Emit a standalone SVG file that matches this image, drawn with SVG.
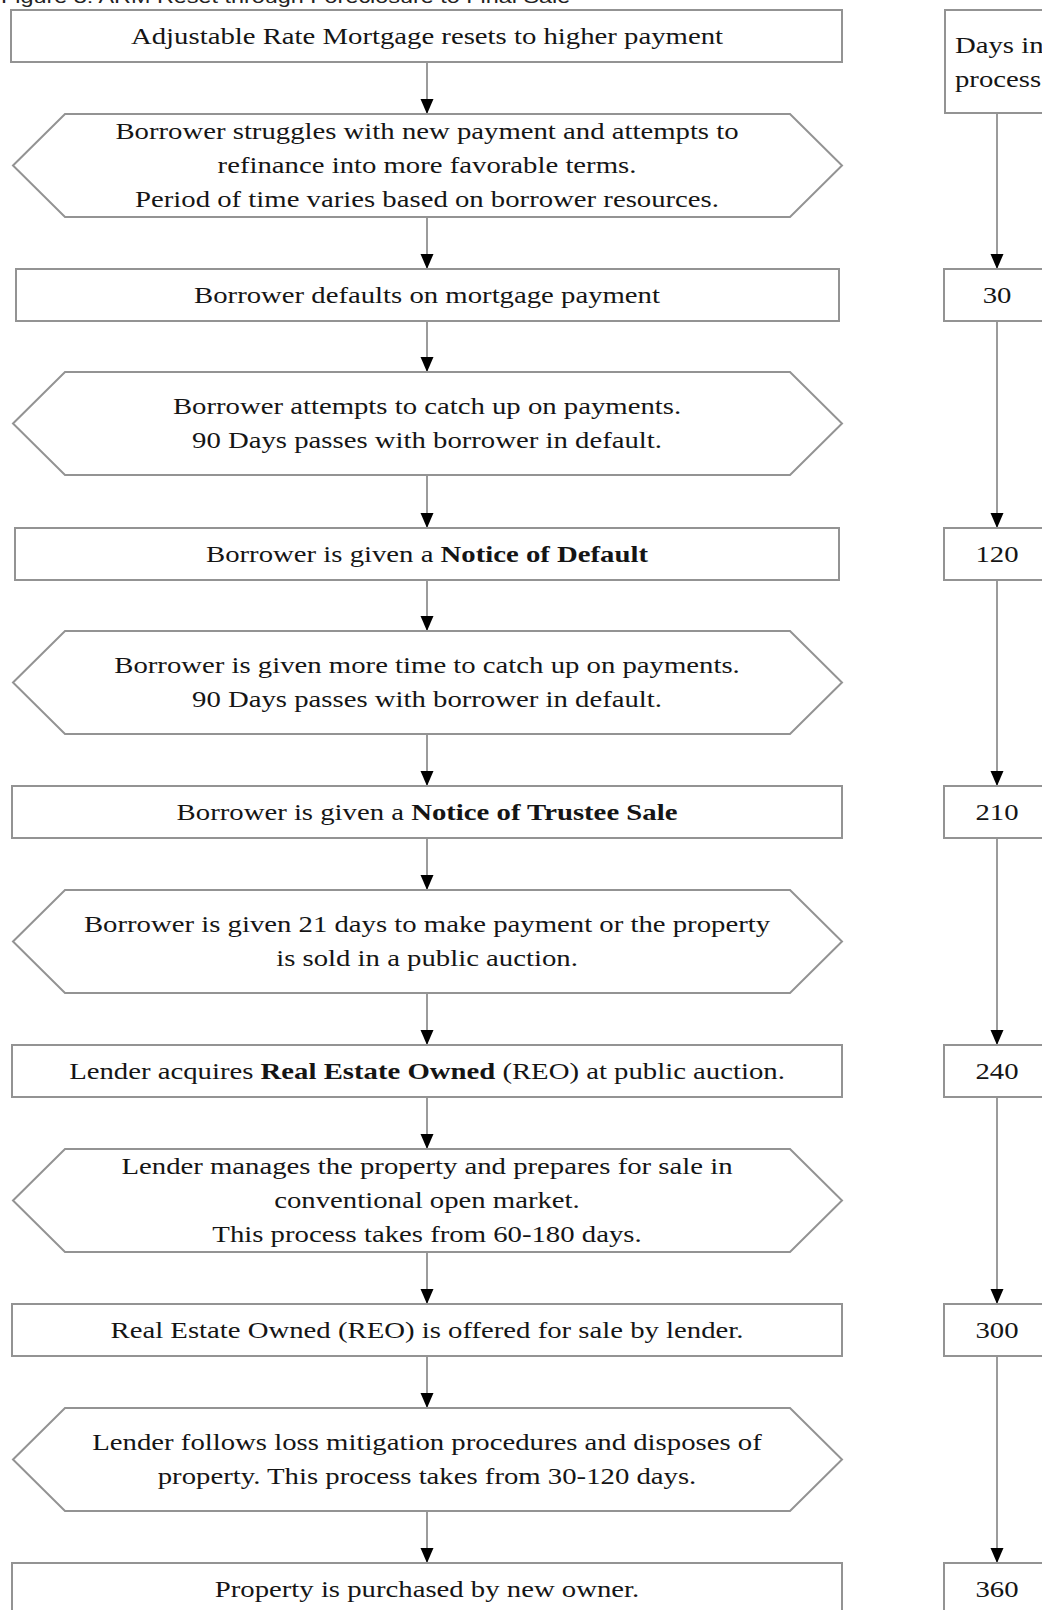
<svg xmlns="http://www.w3.org/2000/svg" width="1042" height="1610" viewBox="0 0 1042 1610">
<style>
.box{fill:#fff;stroke:#939393;stroke-width:2}
.t{font-family:"Liberation Serif","Times New Roman",serif;font-size:23px;fill:#151515;text-anchor:middle}
.tl{font-family:"Liberation Serif","Times New Roman",serif;font-size:23px;fill:#151515;text-anchor:start}
.b{font-weight:bold}
.title{font-family:"Liberation Sans",Arial,sans-serif;font-size:18px;fill:#222}
.conn{stroke:#7a7a7a;stroke-width:1.5;fill:none}
</style>
<defs>
<marker id="arr" markerUnits="userSpaceOnUse" markerWidth="16" markerHeight="14" refX="15" refY="6.5" orient="auto">
<path d="M0,0 L15,6.5 L0,13 z" fill="#000"/>
</marker>
</defs>
<rect width="1042" height="1610" fill="#fff"/>
<text class="title" transform="translate(1 3) scale(1.3 1)">Figure 3: ARM Reset through Foreclosure to Final Sale</text>

<g id="connectors">
<line class="conn" x1="427" y1="62" x2="427" y2="114" marker-end="url(#arr)"/>
<line class="conn" x1="427" y1="217" x2="427" y2="269" marker-end="url(#arr)"/>
<line class="conn" x1="427" y1="321" x2="427" y2="372" marker-end="url(#arr)"/>
<line class="conn" x1="427" y1="475" x2="427" y2="528" marker-end="url(#arr)"/>
<line class="conn" x1="427" y1="580" x2="427" y2="631" marker-end="url(#arr)"/>
<line class="conn" x1="427" y1="734" x2="427" y2="786" marker-end="url(#arr)"/>
<line class="conn" x1="427" y1="838" x2="427" y2="890" marker-end="url(#arr)"/>
<line class="conn" x1="427" y1="993" x2="427" y2="1045" marker-end="url(#arr)"/>
<line class="conn" x1="427" y1="1097" x2="427" y2="1149" marker-end="url(#arr)"/>
<line class="conn" x1="427" y1="1252" x2="427" y2="1304" marker-end="url(#arr)"/>
<line class="conn" x1="427" y1="1356" x2="427" y2="1408" marker-end="url(#arr)"/>
<line class="conn" x1="427" y1="1511" x2="427" y2="1563" marker-end="url(#arr)"/>
<line class="conn" x1="997" y1="113" x2="997" y2="269" marker-end="url(#arr)"/>
<line class="conn" x1="997" y1="321" x2="997" y2="528" marker-end="url(#arr)"/>
<line class="conn" x1="997" y1="580" x2="997" y2="786" marker-end="url(#arr)"/>
<line class="conn" x1="997" y1="838" x2="997" y2="1045" marker-end="url(#arr)"/>
<line class="conn" x1="997" y1="1097" x2="997" y2="1304" marker-end="url(#arr)"/>
<line class="conn" x1="997" y1="1356" x2="997" y2="1563" marker-end="url(#arr)"/>
</g>

<g id="n1">
<rect class="box" x="11" y="10" width="831" height="52"/>
<text class="t" transform="translate(427 44) scale(1.25 1)">Adjustable Rate Mortgage resets to higher payment</text>
</g>
<g id="n2">
<polygon class="box" points="13,165.5 65,114 790,114 842,165.5 790,217 65,217"/>
<text class="t" transform="translate(427 139) scale(1.25 1)">Borrower struggles with new payment and attempts to</text>
<text class="t" transform="translate(427 173) scale(1.25 1)">refinance into more favorable terms.</text>
<text class="t" transform="translate(427 207) scale(1.25 1)">Period of time varies based on borrower resources.</text>
</g>
<g id="n3">
<rect class="box" x="16" y="269" width="823" height="52"/>
<text class="t" transform="translate(427 303) scale(1.25 1)">Borrower defaults on mortgage payment</text>
</g>
<g id="n4">
<polygon class="box" points="13,423.5 65,372 790,372 842,423.5 790,475 65,475"/>
<text class="t" transform="translate(427 414) scale(1.25 1)">Borrower attempts to catch up on payments.</text>
<text class="t" transform="translate(427 448) scale(1.25 1)">90 Days passes with borrower in default.</text>
</g>
<g id="n5">
<rect class="box" x="15" y="528" width="824" height="52"/>
<text class="t" transform="translate(427 562) scale(1.25 1)">Borrower is given a <tspan class="b">Notice of Default</tspan></text>
</g>
<g id="n6">
<polygon class="box" points="13,682.5 65,631 790,631 842,682.5 790,734 65,734"/>
<text class="t" transform="translate(427 673) scale(1.25 1)">Borrower is given more time to catch up on payments.</text>
<text class="t" transform="translate(427 707) scale(1.25 1)">90 Days passes with borrower in default.</text>
</g>
<g id="n7">
<rect class="box" x="12" y="786" width="830" height="52"/>
<text class="t" transform="translate(427 820) scale(1.25 1)">Borrower is given a <tspan class="b">Notice of Trustee Sale</tspan></text>
</g>
<g id="n8">
<polygon class="box" points="13,941.5 65,890 790,890 842,941.5 790,993 65,993"/>
<text class="t" transform="translate(427 932) scale(1.25 1)">Borrower is given 21 days to make payment or the property</text>
<text class="t" transform="translate(427 966) scale(1.25 1)">is sold in a public auction.</text>
</g>
<g id="n9">
<rect class="box" x="12" y="1045" width="830" height="52"/>
<text class="t" transform="translate(427 1079) scale(1.25 1)">Lender acquires <tspan class="b">Real Estate Owned</tspan> (REO) at public auction.</text>
</g>
<g id="n10">
<polygon class="box" points="13,1200.5 65,1149 790,1149 842,1200.5 790,1252 65,1252"/>
<text class="t" transform="translate(427 1174) scale(1.25 1)">Lender manages the property and prepares for sale in</text>
<text class="t" transform="translate(427 1208) scale(1.25 1)">conventional open market.</text>
<text class="t" transform="translate(427 1242) scale(1.25 1)">This process takes from 60-180 days.</text>
</g>
<g id="n11">
<rect class="box" x="12" y="1304" width="830" height="52"/>
<text class="t" transform="translate(427 1338) scale(1.25 1)">Real Estate Owned (REO) is offered for sale by lender.</text>
</g>
<g id="n12">
<polygon class="box" points="13,1459.5 65,1408 790,1408 842,1459.5 790,1511 65,1511"/>
<text class="t" transform="translate(427 1450) scale(1.25 1)">Lender follows loss mitigation procedures and disposes of</text>
<text class="t" transform="translate(427 1484) scale(1.25 1)">property. This process takes from 30-120 days.</text>
</g>
<g id="n13">
<rect class="box" x="12" y="1563" width="830" height="60"/>
<text class="t" transform="translate(427 1597) scale(1.25 1)">Property is purchased by new owner.</text>
</g>

<g id="d0">
<rect class="box" x="945" y="10" width="110" height="103"/>
<text class="tl" transform="translate(955 53) scale(1.25 1)">Days in</text>
<text class="tl" transform="translate(955 87) scale(1.25 1)">process</text>
</g>
<g id="d30">
<rect class="box" x="944" y="269" width="110" height="52"/>
<text class="t" transform="translate(997 303) scale(1.25 1)">30</text>
</g>
<g id="d120">
<rect class="box" x="944" y="528" width="110" height="52"/>
<text class="t" transform="translate(997 562) scale(1.25 1)">120</text>
</g>
<g id="d210">
<rect class="box" x="944" y="786" width="110" height="52"/>
<text class="t" transform="translate(997 820) scale(1.25 1)">210</text>
</g>
<g id="d240">
<rect class="box" x="944" y="1045" width="110" height="52"/>
<text class="t" transform="translate(997 1079) scale(1.25 1)">240</text>
</g>
<g id="d300">
<rect class="box" x="944" y="1304" width="110" height="52"/>
<text class="t" transform="translate(997 1338) scale(1.25 1)">300</text>
</g>
<g id="d360">
<rect class="box" x="944" y="1563" width="110" height="60"/>
<text class="t" transform="translate(997 1597) scale(1.25 1)">360</text>
</g>
</svg>
